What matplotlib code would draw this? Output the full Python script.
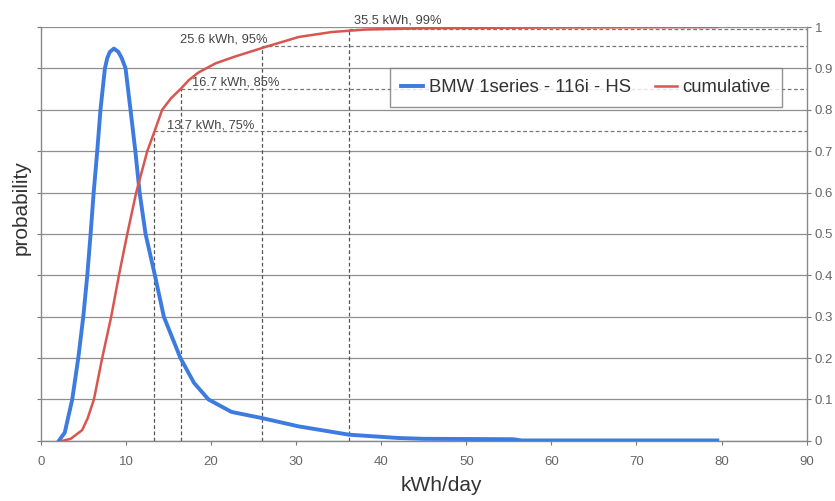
"""
Daily energy use distribution with cumulative curve
"""

import numpy as np
import matplotlib
matplotlib.use('Agg')
import matplotlib.pyplot as plt

# density curve
dens_x = [2.1, 2.8, 3.68, 4.39, 4.98, 5.45, 5.84, 6.2, 6.62, 7.0, 7.52, 7.8, 8.1,
          8.58, 9.1, 9.5, 9.95, 10.53, 11.1, 11.6, 12.3, 13.4, 14.45, 16.4, 18.0,
          19.7, 22.4, 26.0, 30.3, 36.2, 42.0, 45.0, 55.5, 56.5, 79.5]
dens_y = [0.0, 0.02, 0.10, 0.20, 0.30, 0.40, 0.50, 0.60, 0.70, 0.80, 0.90, 0.925,
          0.94, 0.948, 0.94, 0.925, 0.90, 0.80, 0.70, 0.60, 0.50, 0.40, 0.30, 0.20,
          0.14, 0.10, 0.07, 0.055, 0.035, 0.015, 0.007, 0.005, 0.004, 0.001, 0.001]

# cumulative curve
cum_x = [2.5, 3.5, 4.85, 5.5, 6.23, 7.2, 8.26, 9.17, 10.15, 11.2, 12.5, 13.3,
         14.25, 15.3, 16.4, 17.4, 18.5, 20.5, 22.7, 26.4, 30.3, 34.2, 38.2, 45.0,
         60.0, 79.5]
cum_y = [0.0, 0.005, 0.026, 0.055, 0.10, 0.20, 0.30, 0.40, 0.50, 0.60, 0.70, 0.745,
         0.80, 0.828, 0.85, 0.872, 0.89, 0.912, 0.928, 0.952, 0.976, 0.988, 0.994,
         0.997, 0.999, 1.0]

# percentile markers
mark_x = [13.3, 16.5, 26.0, 36.2]
mark_p = [0.75, 0.85, 0.955, 0.995]
mark_txt = ['13.7 kWh, 75%', '16.7 kWh, 85%', '25.6 kWh, 95%', '35.5 kWh, 99%']
txt_pos = [(14.8, 0.763), (17.7, 0.867), (16.3, 0.969), (36.8, 1.017)]

plt.rc('font', family='Liberation Sans')

fig = plt.figure(figsize=(8.35, 5.01), dpi=100)
ax = fig.add_axes([0.049, 0.12, 0.917, 0.826])

# horizontal grid
for g in np.arange(0, 1.01, 0.1):
    ax.axhline(g, color='#8f8f8f', lw=0.9, zorder=1)

# percentile dashed lines
for xm, pm in zip(mark_x, mark_p):
    ax.plot([xm, xm], [0, pm], ls=(0, (3, 2)), color='#555555', lw=0.9, zorder=2)
    ax.plot([xm, 90], [pm, pm], ls=(0, (3, 2)), color='#777777', lw=0.9, zorder=2)
for t, (tx, ty) in zip(mark_txt, txt_pos):
    ax.text(tx, ty, t, fontsize=9.3, color='#444444', va='center', zorder=4,
            clip_on=False)

ax.plot(dens_x, dens_y, color='#3d7be0', lw=2.8, label='BMW 1series - 116i - HS', zorder=3)
ax.plot(cum_x, cum_y, color='#d9554f', lw=1.8, label='cumulative', zorder=3)

ax.set_xlim(0, 90)
ax.set_ylim(0, 1)
ax.set_xticks(np.arange(0, 91, 10))
ax.set_yticks(np.arange(0, 1.01, 0.1))
ax.set_yticklabels(['0', '0.1', '0.2', '0.3', '0.4', '0.5', '0.6', '0.7', '0.8', '0.9', '1'])
ax.tick_params(axis='y', left=True, right=True, labelleft=False, labelright=True,
               direction='out', length=3, color='#777777', labelsize=9.5,
               labelcolor='#666666', pad=3)
ax.tick_params(axis='x', direction='out', length=3, color='#777777', labelsize=9.5,
               labelcolor='#666666', pad=8)
for s in ['left', 'right', 'bottom']:
    ax.spines[s].set_color('#888888')
    ax.spines[s].set_linewidth(1.0)
ax.spines['top'].set_visible(False)

ax.set_xlabel('kWh/day', fontsize=15, color='#333333')
ax.xaxis.set_label_coords(0.5235, -0.085)
ax.set_ylabel('probability', fontsize=15, color='#333333')
ax.yaxis.set_label_coords(-0.014, 0.565)

leg = ax.legend(loc='upper left', bbox_to_anchor=(0.4556, 0.901), ncol=2, fontsize=13.3,
                frameon=True, fancybox=False, edgecolor='#777777', handlelength=1.2,
                handletextpad=0.3, columnspacing=1.3, borderpad=0.6, borderaxespad=0)
leg.get_frame().set_linewidth(1.0)
for t in leg.get_texts():
    t.set_color('#333333')

plt.savefig('out.png', dpi=100)
